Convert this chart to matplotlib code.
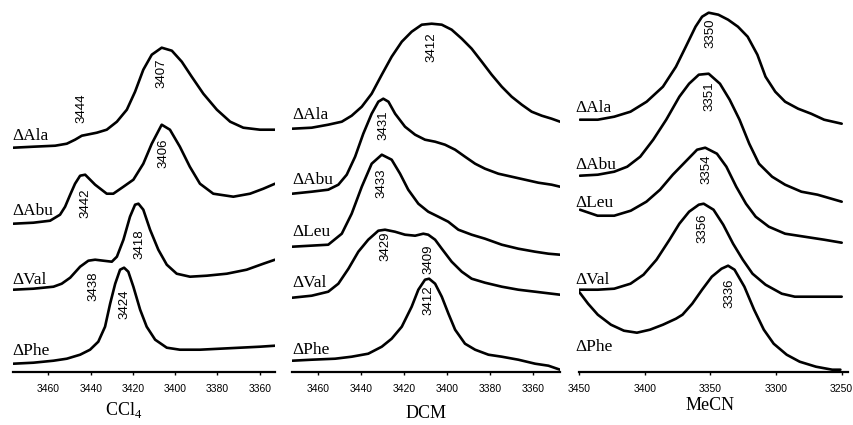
import matplotlib
matplotlib.use("Agg")
import matplotlib.pyplot as plt

plt.rcParams['mathtext.fontset'] = 'custom'
plt.rcParams['mathtext.rm'] = 'Liberation Serif'

#################
# CCl4 spectra  #
#################
ccl4_ala_wn = [3476.6, 3467.1, 3456.8, 3451.3, 3447.4, 3444.2, 3441.8, 3437.1, 3432.4, 3427.6, 3422.9, 3419.0,
               3415.1, 3411.1, 3406.4, 3401.6, 3396.9, 3392.2, 3386.7, 3380.3, 3374.0, 3367.8, 3359.9, 3352.8]
ccl4_ala_a = [2.24, 2.25, 2.26, 2.28, 2.32, 2.36, 2.37, 2.39, 2.42, 2.50, 2.62, 2.80,
              3.02, 3.17, 3.24, 3.21, 3.10, 2.95, 2.78, 2.62, 2.50, 2.44, 2.42, 2.42]

ccl4_abu_wn = [3476.6, 3467.1, 3459.2, 3454.5, 3452.1, 3449.7, 3447.4, 3445.0, 3442.6, 3437.9, 3432.4, 3429.3, 3424.5,
               3419.8, 3415.1, 3411.1, 3406.4, 3402.5, 3397.8, 3393.1, 3388.3, 3382.0, 3372.5, 3364.6, 3358.3, 3352.8]
ccl4_abu_a = [1.48, 1.49, 1.51, 1.57, 1.65, 1.77, 1.88, 1.96, 1.97, 1.87, 1.78, 1.78, 1.85,
              1.92, 2.08, 2.28, 2.47, 2.42, 2.25, 2.05, 1.88, 1.78, 1.75, 1.78, 1.83, 1.88]

ccl4_val_wn = [3476.6, 3467.1, 3457.6, 3453.7, 3449.7, 3445.0, 3441.1, 3437.9, 3434.0, 3430.0, 3427.6, 3424.5, 3421.4,
               3419.0, 3417.4, 3415.1, 3411.9, 3408.0, 3404.0, 3399.3, 3393.0, 3385.1, 3375.6, 3366.2, 3358.3, 3352.8]
ccl4_val_a = [0.82, 0.83, 0.85, 0.88, 0.94, 1.05, 1.11, 1.12, 1.11, 1.10, 1.15, 1.32, 1.55,
              1.67, 1.68, 1.62, 1.42, 1.22, 1.07, 0.98, 0.95, 0.96, 0.98, 1.02, 1.08, 1.12]

ccl4_phe_wn = [3476.6, 3467.1, 3457.6, 3451.3, 3445.0, 3440.3, 3436.4, 3433.2, 3430.8, 3428.4, 3426.1, 3424.2,
               3422.2, 3419.8, 3416.6, 3413.5, 3409.5, 3404.0, 3397.8, 3388.3, 3378.9, 3369.4, 3359.9, 3352.8]
ccl4_phe_a = [0.08, 0.09, 0.11, 0.13, 0.17, 0.22, 0.30, 0.45, 0.68, 0.88, 1.02, 1.04,
              1.00, 0.85, 0.62, 0.45, 0.32, 0.24, 0.22, 0.22, 0.23, 0.24, 0.25, 0.26]

ccl4_names = ['\u0394Ala', '\u0394Abu', '\u0394Val', '\u0394Phe']
ccl4_peaks = ['3444', '3407', '3406', '3442', '3418', '3438', '3424']

#################
# DCM spectra   #
#################
dcm_ala_wn = [3472.1, 3463.1, 3455.4, 3449.1, 3444.5, 3439.8, 3435.2, 3430.5, 3425.9, 3421.2, 3416.6, 3411.9, 3407.3,
              3402.6, 3398.0, 3393.3, 3388.7, 3384.0, 3379.4, 3374.7, 3370.1, 3365.4, 3360.8, 3356.1, 3351.5, 3347.6]
dcm_ala_a = [2.43, 2.44, 2.47, 2.50, 2.56, 2.65, 2.78, 2.97, 3.15, 3.30, 3.40, 3.47, 3.48,
             3.47, 3.42, 3.33, 3.23, 3.10, 2.97, 2.85, 2.75, 2.67, 2.60, 2.56, 2.53, 2.50]

dcm_abu_wn = [3472.1, 3463.1, 3455.4, 3450.7, 3446.8, 3442.9, 3439.1, 3435.2, 3432.1, 3429.8, 3427.4, 3424.3, 3419.7, 3415.0,
              3410.4, 3405.7, 3401.1, 3396.4, 3391.8, 3387.1, 3382.5, 3376.3, 3370.1, 3363.9, 3357.7, 3351.5, 3347.6]
dcm_abu_a = [1.78, 1.80, 1.82, 1.87, 1.97, 2.15, 2.38, 2.58, 2.70, 2.73, 2.70, 2.58, 2.45, 2.37,
             2.32, 2.30, 2.27, 2.22, 2.15, 2.08, 2.03, 1.98, 1.95, 1.92, 1.89, 1.87, 1.85]

dcm_leu_wn = [3472.1, 3455.4, 3449.1, 3444.5, 3439.8, 3435.2, 3430.5, 3425.9, 3422.0, 3418.2, 3413.5,
              3408.9, 3404.2, 3399.6, 3394.9, 3388.7, 3382.5, 3374.7, 3367.0, 3359.2, 3353.0, 3347.6]
dcm_leu_a = [1.25, 1.27, 1.38, 1.58, 1.85, 2.08, 2.17, 2.12, 1.98, 1.82, 1.68,
             1.60, 1.55, 1.50, 1.42, 1.37, 1.33, 1.27, 1.23, 1.20, 1.18, 1.17]

dcm_val_wn = [3472.1, 3463.1, 3455.4, 3450.7, 3446.0, 3441.4, 3436.8, 3432.1, 3429.0, 3424.4, 3419.7, 3415.0, 3411.2,
              3408.9, 3405.7, 3402.6, 3398.0, 3393.3, 3388.7, 3382.5, 3374.7, 3367.0, 3359.2, 3351.5, 3347.6]
dcm_val_a = [0.74, 0.76, 0.80, 0.88, 1.03, 1.20, 1.32, 1.41, 1.42, 1.40, 1.37, 1.36, 1.38,
             1.37, 1.32, 1.23, 1.10, 1.00, 0.93, 0.89, 0.85, 0.82, 0.80, 0.78, 0.77]

dcm_phe_wn = [3472.1, 3463.1, 3452.2, 3444.5, 3436.8, 3430.5, 3425.9, 3421.2, 3416.6, 3413.5, 3410.4, 3408.5,
              3405.7, 3402.6, 3399.5, 3396.4, 3391.8, 3387.1, 3380.9, 3374.7, 3367.0, 3359.2, 3353.0, 3347.6]
dcm_phe_a = [0.11, 0.12, 0.13, 0.15, 0.18, 0.25, 0.33, 0.45, 0.65, 0.82, 0.92, 0.93,
             0.88, 0.75, 0.58, 0.42, 0.28, 0.22, 0.17, 0.15, 0.12, 0.08, 0.06, 0.02]

dcm_names = ['\u0394Ala', '\u0394Abu', '\u0394Leu', '\u0394Val', '\u0394Phe']
dcm_peaks = ['3412', '3431', '3433', '3429', '3409', '3412']

#################
# MeCN spectra  #
#################
mecn_ala_wn = [3449.3, 3435.7, 3423.2, 3410.8, 3398.5, 3386.1, 3376.2, 3368.7, 3361.3, 3356.3, 3351.3, 3343.9,
               3336.5, 3329.0, 3321.6, 3314.2, 3308.0, 3300.6, 3293.1, 3283.2, 3273.3, 3263.4, 3250.0]
mecn_ala_a = [2.52, 2.52, 2.55, 2.60, 2.70, 2.85, 3.05, 3.25, 3.45, 3.55, 3.59, 3.57,
              3.52, 3.45, 3.35, 3.17, 2.95, 2.80, 2.70, 2.63, 2.58, 2.52, 2.48]

mecn_abu_wn = [3449.3, 3435.7, 3423.2, 3413.3, 3403.4, 3393.5, 3383.6, 3373.6, 3366.2, 3358.8, 3351.3,
               3342.7, 3335.3, 3327.8, 3320.4, 3313.0, 3303.0, 3293.1, 3280.7, 3268.4, 3250.0]
mecn_abu_a = [1.96, 1.97, 2.00, 2.05, 2.15, 2.32, 2.52, 2.75, 2.88, 2.97, 2.98,
              2.88, 2.72, 2.52, 2.28, 2.08, 1.95, 1.87, 1.80, 1.77, 1.70]

mecn_leu_wn = [3449.3, 3435.9, 3423.2, 3410.6, 3398.7, 3388.3, 3378.6, 3367.5, 3360.1, 3353.9,
               3345.0, 3337.8, 3330.3, 3322.9, 3315.5, 3305.5, 3293.1, 3278.3, 3263.4, 3250.0]
mecn_leu_a = [1.62, 1.56, 1.56, 1.61, 1.70, 1.82, 1.97, 2.12, 2.22, 2.24,
              2.18, 2.05, 1.85, 1.68, 1.55, 1.45, 1.38, 1.35, 1.32, 1.29]

mecn_val_wn = [3450.0, 3435.7, 3423.2, 3410.8, 3400.9, 3391.0, 3381.1, 3373.6, 3366.2, 3358.8,
               3355.1, 3347.6, 3340.2, 3332.7, 3325.3, 3317.9, 3308.0, 3295.6, 3285.7, 3250.0]
mecn_val_a = [0.82, 0.82, 0.83, 0.88, 0.97, 1.12, 1.32, 1.48, 1.60, 1.67,
              1.68, 1.62, 1.47, 1.28, 1.12, 0.98, 0.87, 0.78, 0.75, 0.75]

mecn_phe_wn = [3450.0, 3443.1, 3435.7, 3425.7, 3415.8, 3405.9, 3396.0, 3386.1, 3376.2, 3371.2, 3363.8, 3356.3, 3348.9,
               3341.5, 3336.5, 3331.6, 3324.1, 3316.7, 3309.3, 3301.8, 3291.9, 3282.0, 3269.6, 3257.2, 3251.0]
mecn_phe_a = [0.80, 0.68, 0.57, 0.47, 0.41, 0.39, 0.42, 0.47, 0.53, 0.57, 0.68, 0.82, 0.95,
              1.03, 1.06, 1.02, 0.85, 0.62, 0.42, 0.28, 0.17, 0.10, 0.05, 0.02, 0.02]

mecn_names = ['\u0394Ala', '\u0394Abu', '\u0394Leu', '\u0394Val', '\u0394Phe']
mecn_peaks = ['3350', '3351', '3354', '3356', '3336']

ccl4_ticks = [3460, 3440, 3420, 3400, 3380, 3360]
dcm_ticks = [3460, 3440, 3420, 3400, 3380, 3360]
mecn_ticks = [3450, 3400, 3350, 3300, 3250]


def draw_panel(ax, traces, names, name_y, peaks, peak_xy, xlim, ticks, label_dx=0.0):
    for wn, a in traces:
        ax.plot(wn, a, color='black', lw=1.9, solid_joinstyle='round', solid_capstyle='round')
    for name, y in zip(names, name_y):
        ax.text(xlim[0] - label_dx, y, name, ha='left', va='center',
                family='Liberation Serif', fontsize=12.5)
    for lab, (x, y) in zip(peaks, peak_xy):
        ax.text(x, y, lab, rotation=90, ha='center', va='center',
                family='Liberation Sans', fontsize=9.5)
    ax.set_xlim(xlim)
    ax.set_ylim(0, 3.717)
    ax.set_xticks(ticks)
    ax.set_xticklabels([str(t) for t in ticks], family='Liberation Sans', fontsize=7.5)
    ax.tick_params(axis='x', direction='out', length=2.5, width=1.0, pad=6)
    ax.set_yticks([])
    for s in ['top', 'left', 'right']:
        ax.spines[s].set_visible(False)
    ax.spines['bottom'].set_linewidth(1.6)


fig = plt.figure(figsize=(8.54, 4.25), dpi=100)
bottom = 0.1254
height = 0.8746

ax1 = fig.add_axes([0.0156, bottom, 0.3064, height])
ax2 = fig.add_axes([0.3423, bottom, 0.3135, height])
ax3 = fig.add_axes([0.6780, bottom, 0.3153, height])

draw_panel(ax1,
           [(ccl4_ala_wn, ccl4_ala_a), (ccl4_abu_wn, ccl4_abu_a),
            (ccl4_val_wn, ccl4_val_a), (ccl4_phe_wn, ccl4_phe_a)],
           ccl4_names, [2.36, 1.61, 0.92, 0.21],
           ccl4_peaks,
           [(3444.2, 2.63), (3406.4, 2.98), (3405.6, 2.18), (3442.6, 1.68),
            (3417.0, 1.28), (3438.7, 0.85), (3424.2, 0.67)],
           (3476.6, 3352.8), ccl4_ticks, label_dx=-0.6)

draw_panel(ax2,
           [(dcm_ala_wn, dcm_ala_a), (dcm_abu_wn, dcm_abu_a), (dcm_leu_wn, dcm_leu_a),
            (dcm_val_wn, dcm_val_a), (dcm_phe_wn, dcm_phe_a)],
           dcm_names, [2.57, 1.92, 1.40, 0.89, 0.22],
           dcm_peaks,
           [(3407.3, 3.25), (3429.8, 2.47), (3430.5, 1.88), (3429.0, 1.25),
            (3408.9, 1.12), (3408.9, 0.72)],
           (3472.1, 3347.6), dcm_ticks, label_dx=0.0)

draw_panel(ax3,
           [(mecn_ala_wn, mecn_ala_a), (mecn_abu_wn, mecn_abu_a), (mecn_leu_wn, mecn_leu_a),
            (mecn_val_wn, mecn_val_a), (mecn_phe_wn, mecn_phe_a)],
           mecn_names, [2.64, 2.07, 1.69, 0.92, 0.25],
           mecn_peaks,
           [(3350.1, 3.38), (3350.7, 2.76), (3352.6, 2.02), (3356.3, 1.43), (3335.3, 0.78)],
           (3450.0, 3245.0), mecn_ticks, label_dx=-2.5)

# solvent titles under each panel
fig.text(124 / 854, 1 - 410 / 425, 'CCl$_4$', ha='center', va='center',
         family='Liberation Serif', fontsize=13)
fig.text(426 / 854, 1 - 413 / 425, 'DCM', ha='center', va='center',
         family='Liberation Serif', fontsize=13)
fig.text(710 / 854, 1 - 405 / 425, 'MeCN', ha='center', va='center',
         family='Liberation Serif', fontsize=13)

fig.savefig('out.png', dpi=100)
